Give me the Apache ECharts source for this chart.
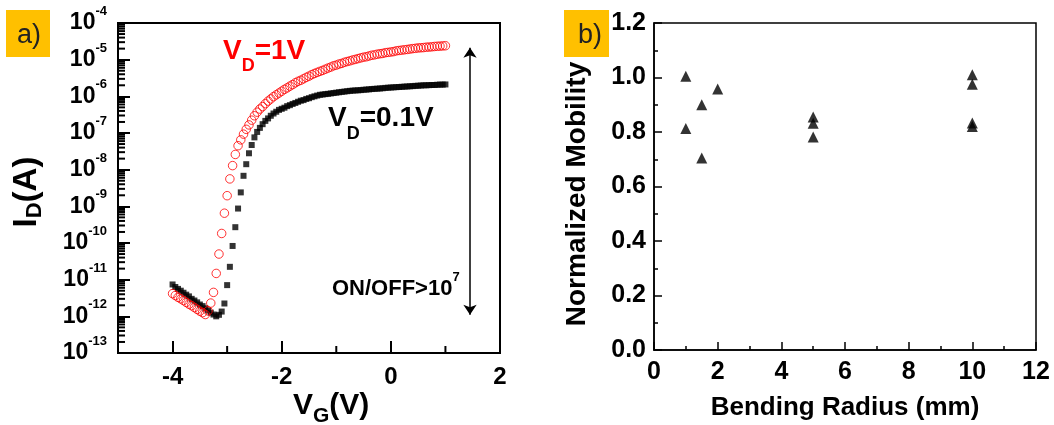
<!DOCTYPE html>
<html><head><meta charset="utf-8">
<script src="https://cdn.jsdelivr.net/npm/echarts@6/dist/echarts.min.js"></script>
<style>html,body{margin:0;padding:0;background:#fff}#c{width:1054px;height:425px}</style>
</head><body><div id="c"></div>
<script>
// ---- Panel a) transfer curves: gate voltage (V) and drain current (A) ----
const VG = [-4.00,-3.95,-3.90,-3.85,-3.80,-3.75,-3.70,-3.65,-3.60,-3.55,
  -3.50,-3.45,-3.40,-3.35,-3.30,-3.25,-3.20,-3.15,-3.10,-3.05,
  -3.00,-2.95,-2.90,-2.85,-2.80,-2.75,-2.70,-2.65,-2.60,-2.55,
  -2.50,-2.45,-2.40,-2.35,-2.30,-2.25,-2.20,-2.15,-2.10,-2.05,
  -2.00,-1.95,-1.90,-1.85,-1.80,-1.75,-1.70,-1.65,-1.60,-1.55,
  -1.50,-1.45,-1.40,-1.35,-1.30,-1.25,-1.20,-1.15,-1.10,-1.05,
  -1.00,-0.95,-0.90,-0.85,-0.80,-0.75,-0.70,-0.65,-0.60,-0.55,
  -0.50,-0.45,-0.40,-0.35,-0.30,-0.25,-0.20,-0.15,-0.10,-0.05,
  0.00,0.05,0.10,0.15,0.20,0.25,0.30,0.35,0.40,0.45,
  0.50,0.55,0.60,0.65,0.70,0.75,0.80,0.85,0.90,0.95,1.00];

const ID_VD01 = [7.4e-12,6.3e-12,5.6e-12,5.0e-12,4.4e-12,3.9e-12,3.5e-12,3.0e-12,2.7e-12,2.4e-12,
  2.1e-12,1.9e-12,1.66e-12,1.45e-12,1.26e-12,1.12e-12,1.0e-12,1.1e-12,1.35e-12,2.24e-12,
  7.1e-12,2.24e-11,8.3e-11,2.7e-10,8.7e-10,2.4e-9,6.8e-9,1.41e-8,2.8e-8,4.7e-8,
  7.6e-8,1.07e-7,1.38e-7,1.74e-7,2.14e-7,2.5e-7,2.95e-7,3.4e-7,3.8e-7,4.27e-7,
  4.57e-7,4.9e-7,5.4e-7,5.75e-7,6.2e-7,6.6e-7,7.1e-7,7.6e-7,7.9e-7,8.5e-7,
  8.9e-7,9.5e-7,1.0e-6,1.05e-6,1.1e-6,1.12e-6,1.15e-6,1.17e-6,1.2e-6,1.23e-6,
  1.26e-6,1.29e-6,1.32e-6,1.35e-6,1.38e-6,1.41e-6,1.43e-6,1.45e-6,1.46e-6,1.48e-6,
  1.51e-6,1.53e-6,1.55e-6,1.58e-6,1.6e-6,1.62e-6,1.64e-6,1.66e-6,1.7e-6,1.72e-6,
  1.74e-6,1.76e-6,1.78e-6,1.8e-6,1.82e-6,1.84e-6,1.86e-6,1.88e-6,1.9e-6,1.93e-6,
  1.95e-6,1.97e-6,2.0e-6,2.0e-6,2.02e-6,2.04e-6,2.04e-6,2.07e-6,2.09e-6,2.09e-6,2.11e-6];

const ID_VD1 = [4.17e-12,3.7e-12,3.3e-12,3.0e-12,2.7e-12,2.4e-12,2.14e-12,1.95e-12,1.74e-12,1.55e-12,
  1.38e-12,1.26e-12,1.12e-12,1.41e-12,2.3e-12,4.5e-12,1.48e-11,5.0e-11,1.82e-10,6.5e-10,
  1.95e-9,5.6e-9,1.29e-8,2.6e-8,4.5e-8,6.5e-8,9.3e-8,1.26e-7,1.66e-7,2.24e-7,
  2.95e-7,3.7e-7,4.5e-7,5.25e-7,6.3e-7,7.4e-7,8.5e-7,9.8e-7,1.1e-6,1.23e-6,
  1.38e-6,1.55e-6,1.7e-6,1.9e-6,2.09e-6,2.34e-6,2.57e-6,2.75e-6,3.0e-6,3.3e-6,
  3.55e-6,3.9e-6,4.2e-6,4.5e-6,4.8e-6,5.1e-6,5.5e-6,5.9e-6,6.3e-6,6.8e-6,
  7.1e-6,7.6e-6,7.9e-6,8.5e-6,8.9e-6,9.3e-6,9.8e-6,1.02e-5,1.07e-5,1.12e-5,
  1.17e-5,1.2e-5,1.26e-5,1.32e-5,1.35e-5,1.41e-5,1.45e-5,1.48e-5,1.55e-5,1.58e-5,
  1.62e-5,1.66e-5,1.74e-5,1.78e-5,1.82e-5,1.86e-5,1.9e-5,1.95e-5,2.0e-5,2.04e-5,
  2.09e-5,2.11e-5,2.14e-5,2.19e-5,2.21e-5,2.24e-5,2.29e-5,2.32e-5,2.34e-5,2.37e-5,2.4e-5];

const onOffArrow = [[1.45, 2.1e-5], [1.45, 1.1e-12]];
const vgMin = -5, vgMax = 2;
const vgMajorTicks = [-4, -2, 0, 2];
const vgMinorTicks = [-3, -1, 1];
const idMin = 1e-13, idMax = 1e-4;
const idMinorMantissa = [2, 3, 4, 5, 6, 7, 8, 9];
const idDecades = [1e-13, 1e-12, 1e-11, 1e-10, 1e-9, 1e-8, 1e-7, 1e-6, 1e-5];

// ---- Panel b) normalized mobility vs bending radius ----
const bendRadius   = [1, 1, 1.5, 1.5, 2, 5, 5, 5, 10, 10, 10, 10];
const normMobility = [1.005, 0.813, 0.90, 0.705, 0.958, 0.855, 0.832, 0.782, 1.01, 0.975, 0.833, 0.82];

// minor tick values of the log axis (2..9 x each decade)
const idMinorTicks = [];
idDecades.forEach(d => idMinorMantissa.forEach(k => idMinorTicks.push(k * d)));

const FONT = 'Liberation Sans';
const TXT = '#000';

const chart = echarts.init(document.getElementById('c'), null, {renderer: 'canvas'});

function tickSeries(data, dir, len, width) {
  return {
    type: 'custom', xAxisIndex: 0, yAxisIndex: 0, silent: true, clip: false, z: 6,
    data: data,
    renderItem: function (params, api) {
      const p = api.coord([api.value(0), api.value(1)]);
      const x2 = dir === 'x' ? p[0] + len : p[0];
      const y2 = dir === 'x' ? p[1] : p[1] - len;
      return {type: 'line', shape: {x1: p[0], y1: p[1], x2: x2, y2: y2},
        style: {stroke: '#000', lineWidth: width}};
    }
  };
}

const option = {
  animation: false,
  backgroundColor: '#fff',
  textStyle: {fontFamily: FONT},
  grid: [
    {left: 118, top: 23, width: 382, height: 330, show: true, borderColor: '#000', borderWidth: 2, backgroundColor: 'transparent'},
    {left: 654, top: 23, width: 382, height: 327, show: true, borderColor: '#000', borderWidth: 1.5, backgroundColor: 'transparent'}
  ],
  xAxis: [
    {gridIndex: 0, type: 'value', position: 'bottom', min: vgMin, max: vgMax, interval: 1,
      axisLine: {onZero: false, lineStyle: {color: '#000', width: 2}},
      axisTick: {inside: true, length: 12, customValues: vgMajorTicks, lineStyle: {color: '#000', width: 2}},
      axisLabel: {customValues: vgMajorTicks, fontSize: 24, fontWeight: 'bold', color: TXT, fontFamily: FONT, margin: 12},
      splitLine: {show: false}},
    {gridIndex: 1, type: 'value', position: 'bottom', min: 0, max: 12, interval: 2,
      axisLine: {onZero: false, lineStyle: {color: '#000', width: 1.5}},
      axisTick: {inside: true, length: 8, lineStyle: {color: '#000', width: 1.5}},
      minorTick: {show: true, splitNumber: 2, length: 4, lineStyle: {color: '#000', width: 1.5}},
      axisLabel: {fontSize: 25, fontWeight: 'bold', color: TXT, fontFamily: FONT, margin: 10},
      splitLine: {show: false}}
  ],
  yAxis: [
    {gridIndex: 0, type: 'log', logBase: 10, position: 'left', min: idMin, max: idMax, splitNumber: 9,
      axisLine: {onZero: false, lineStyle: {color: '#000', width: 2}},
      axisTick: {inside: true, length: 12, lineStyle: {color: '#000', width: 2}},
      axisLabel: {margin: 11, color: TXT,
        formatter: function (v) { return '{b|10}{s|' + Math.round(Math.log10(v)) + '}'; },
        rich: {
          b: {fontSize: 23, fontWeight: 'bold', fontFamily: FONT, color: TXT, lineHeight: 36},
          s: {fontSize: 13, fontWeight: 'bold', fontFamily: FONT, color: TXT, lineHeight: 14, verticalAlign: 'top'}
        }},
      splitLine: {show: false}},
    {gridIndex: 1, type: 'value', position: 'left', min: 0, max: 1.2, interval: 0.2,
      axisLine: {onZero: false, lineStyle: {color: '#000', width: 1.5}},
      axisTick: {inside: true, length: 8, lineStyle: {color: '#000', width: 1.5}},
      minorTick: {show: true, splitNumber: 2, length: 4, lineStyle: {color: '#000', width: 1.5}},
      axisLabel: {fontSize: 25, fontWeight: 'bold', color: TXT, fontFamily: FONT, margin: 8,
        formatter: function (v) { return v.toFixed(1); }},
      splitLine: {show: false}}
  ],
  series: [
    tickSeries(idMinorTicks.map(v => [vgMin, v]), 'x', 7, 2),
    tickSeries(vgMinorTicks.map(v => [v, idMin]), 'y', 7, 2),
    {type: 'scatter', name: 'VD=0.1V', xAxisIndex: 0, yAxisIndex: 0,
      symbol: 'rect', symbolSize: 6, itemStyle: {color: '#000'},
      data: VG.map((v, i) => [v, ID_VD01[i]]), z: 3},
    {type: 'scatter', name: 'VD=1V', xAxisIndex: 0, yAxisIndex: 0,
      symbol: 'circle', symbolSize: 8.5,
      itemStyle: {color: 'rgba(255,255,255,0)', borderColor: '#ff0000', borderWidth: 1},
      data: VG.map((v, i) => [v, ID_VD1[i]]), z: 4,
      markLine: {silent: true, symbol: ['arrow', 'arrow'], symbolSize: 10, animation: false,
        lineStyle: {color: '#000', width: 1.5, type: 'solid'}, label: {show: false},
        emphasis: {disabled: true},
        data: [[{coord: onOffArrow[0]}, {coord: onOffArrow[1]}]]}},
    {type: 'scatter', name: 'mobility', xAxisIndex: 1, yAxisIndex: 1,
      symbol: 'triangle', symbolSize: 11, itemStyle: {color: '#000'},
      data: bendRadius.map((r, i) => [r, normMobility[i]])}
  ],
  graphic: [
    // axis titles
    {type: 'text', x: 27, y: 192, rotation: Math.PI / 2, z: 10,
      style: {text: '{m|I}{s|D}{m|(A)}', align: 'center', verticalAlign: 'middle',
        rich: {m: {fontSize: 33, fontWeight: 'bold', fontFamily: FONT, fill: TXT, lineHeight: 37},
               s: {fontSize: 22, fontWeight: 'bold', fontFamily: FONT, fill: TXT, lineHeight: 16, verticalAlign: 'bottom'}}}},
    {type: 'text', x: 293, y: 406, z: 10,
      style: {text: '{m|V}{s|G}{m|(V)}', align: 'left', verticalAlign: 'middle',
        rich: {m: {fontSize: 30, fontWeight: 'bold', fontFamily: FONT, fill: TXT, lineHeight: 42},
               s: {fontSize: 21, fontWeight: 'bold', fontFamily: FONT, fill: TXT, lineHeight: 16, verticalAlign: 'bottom'}}}},
    {type: 'text', x: 577, y: 194, rotation: Math.PI / 2, z: 10,
      style: {text: 'Normalized Mobility', align: 'center', verticalAlign: 'middle',
        font: 'bold 28px "Liberation Sans"', fill: TXT}},
    {type: 'text', x: 845, y: 408, z: 10,
      style: {text: 'Bending Radius (mm)', align: 'center', verticalAlign: 'middle',
        font: 'bold 26px "Liberation Sans"', fill: TXT}},
    // annotations in panel a)
    {type: 'text', x: 223, y: 51, z: 10,
      style: {text: '{m|V}{s|D}{m|=1V}', align: 'left', verticalAlign: 'middle',
        rich: {m: {fontSize: 28, fontWeight: 'bold', fontFamily: FONT, fill: '#ff0000', lineHeight: 48},
               s: {fontSize: 18, fontWeight: 'bold', fontFamily: FONT, fill: '#ff0000', lineHeight: 14, verticalAlign: 'bottom'}}}},
    {type: 'text', x: 328, y: 118, z: 10,
      style: {text: '{m|V}{s|D}{m|=0.1V}', align: 'left', verticalAlign: 'middle',
        rich: {m: {fontSize: 28, fontWeight: 'bold', fontFamily: FONT, fill: TXT, lineHeight: 50},
               s: {fontSize: 18, fontWeight: 'bold', fontFamily: FONT, fill: TXT, lineHeight: 14, verticalAlign: 'bottom'}}}},
    {type: 'text', x: 332, y: 289, z: 10,
      style: {text: '{m|ON/OFF>10}{s|7}', align: 'left', verticalAlign: 'middle',
        rich: {m: {fontSize: 22, fontWeight: 'bold', fontFamily: FONT, fill: TXT, lineHeight: 37},
               s: {fontSize: 13, fontWeight: 'bold', fontFamily: FONT, fill: TXT, lineHeight: 13, verticalAlign: 'top'}}}},
    // panel tags
    {type: 'rect', z: 20, shape: {x: 6, y: 10, width: 44, height: 47}, style: {fill: '#ffc000'}},
    {type: 'text', x: 29, y: 36, z: 21,
      style: {text: 'a)', align: 'center', verticalAlign: 'middle', font: '27px "Liberation Sans"', fill: '#222'}},
    {type: 'rect', z: 20, shape: {x: 564, y: 10, width: 45, height: 47}, style: {fill: '#ffc000'}},
    {type: 'text', x: 590, y: 36, z: 21,
      style: {text: 'b)', align: 'center', verticalAlign: 'middle', font: '27px "Liberation Sans"', fill: '#222'}}
  ]
};
chart.setOption(option);
</script>
</body></html>
